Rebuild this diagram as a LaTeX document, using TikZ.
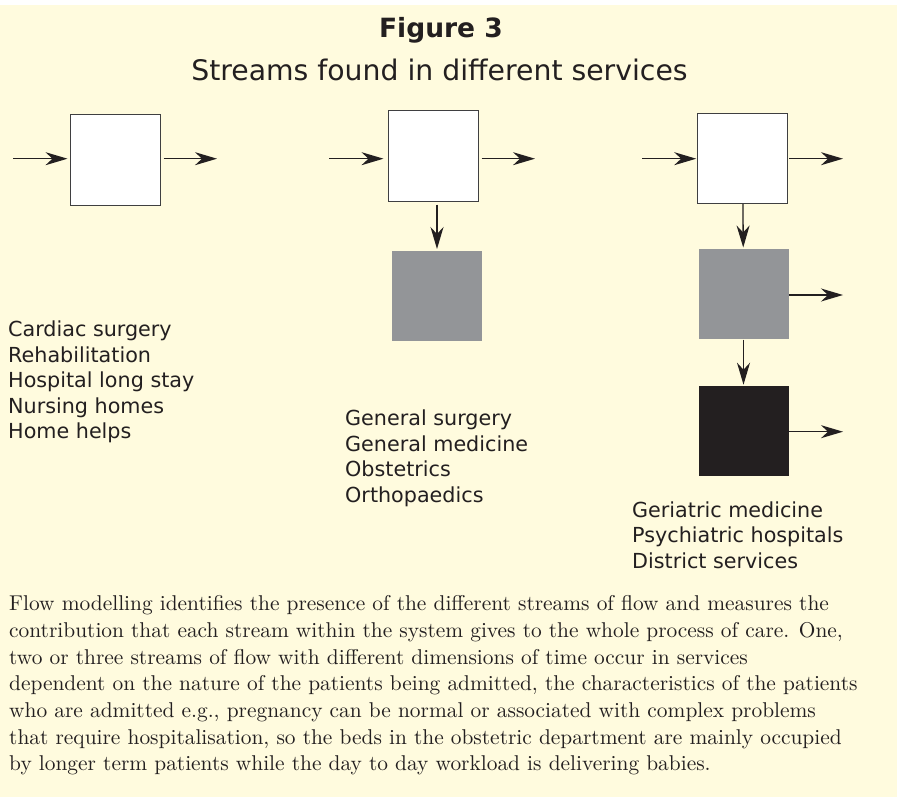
\documentclass[tikz,border=0pt]{standalone}
\usepackage{fontspec}
\usepackage{tikz}
\usetikzlibrary{arrows.meta,calc}
\newfontfamily\headfont{DejaVu Sans}
\newfontfamily\bodyfont{lmroman10-regular.otf}
\definecolor{paper}{HTML}{FFFBDE}
\definecolor{ink}{HTML}{231F20}
\definecolor{edge}{HTML}{3F3F41}
\definecolor{midgrey}{HTML}{939598}
\newcommand{\titlesize}{\fontsize{26.5}{30}\selectfont}
\newcommand{\subsize}{\fontsize{28.3}{32}\selectfont}
\newcommand{\listsize}{\fontsize{20.7}{25.5}\selectfont}
\newcommand{\bodysize}{\fontsize{21.4}{26.7}\selectfont}

\begin{document}
\begin{tikzpicture}[x=1pt,y=-1pt,
  stock/.style={draw=edge,line width=1pt,minimum width=90,minimum height=90,inner sep=0},
  flow/.style={ink,line width=1.3pt,-{Stealth[length=22pt,width=13pt,inset=7pt]}},
  lst/.style={anchor=base west,inner sep=0,align=left,font=\headfont\listsize,text=ink}]
\useasboundingbox (0,0) rectangle (897,797);
\fill[white] (0,0) rectangle (897,797);
\fill[paper] (0,5) rectangle (897,797);
% heading
\node[anchor=base,inner sep=0,font=\headfont\bfseries\titlesize,text=ink] (title) at (441,38) {Figure 3};
\node[anchor=base,inner sep=0,font=\headfont\subsize,text=ink] (subtitle) at (439.5,80.5) {Streams found in different services};
% one stream
\node[stock,fill=white] (a1) at (115,160) {};
\coordinate (ain) at (13,158.7);
\coordinate (aout) at (217,158.7);
\draw[flow,shorten >=2pt] (ain) -- (ain -| a1.west);
\draw[flow,shorten <=3pt] (a1.east |- aout) -- (aout);
\node[lst] (alist) at (8,438.7) {Cardiac surgery\\Rehabilitation\\Hospital long stay\\Nursing homes\\Home helps};
% two streams
\node[stock,fill=white] (b1) at (433,156) {};
\node[stock,draw=none,fill=midgrey] (b2) at (437,295.5) {};
\coordinate (bin) at (329,158.7);
\coordinate (bout) at (535,158.7);
\draw[flow,shorten >=4pt] (bin) -- (bin -| b1.west);
\draw[flow,shorten <=3pt] (b1.east |- bout) -- (bout);
\draw[flow,shorten <=3pt,shorten >=1pt] (b2.north |- b1.south) -- (b2.north);
\node[lst] (blist) at (345,502) {General surgery\\General medicine\\Obstetrics\\Orthopaedics};
% three streams
\node[stock,fill=white] (c1) at (742.7,158.4) {};
\node[stock,draw=none,fill=midgrey] (c2) at (743.5,294) {};
\node[stock,draw=none,fill=ink] (c3) at (743.5,431.2) {};
\coordinate (cin) at (642,158.7);
\coordinate (cout) at (843,158.7);
\coordinate (cout2) at (843,295);
\coordinate (cout3) at (843,431.7);
\draw[flow,shorten >=1pt] (cin) -- (cin -| c1.west);
\draw[flow,shorten <=1pt] (c1.east |- cout) -- (cout);
\draw[flow] (c2.east |- cout2) -- (cout2);
\draw[flow] (c3.east |- cout3) -- (cout3);
\draw[flow,shorten >=1pt] (c1) -- (c2);
\draw[flow,shorten >=1pt] (c2) -- (c3);
\node[lst] (clist) at (632,568) {Geriatric medicine\\Psychiatric hospitals\\District services};
% caption text
\node[anchor=base west,inner sep=0,align=left,font=\bodyfont\bodysize,text=ink] (body) at (9,770.9)
  {Flow modelling identifies the presence of the different streams of flow and measures the\\
   contribution that each stream within the system gives to the whole process of care. One,\\
   two or three streams of flow with different dimensions of time occur in services\\
   dependent on the nature of the patients being admitted, the characteristics of the patients\\
   who are admitted e.g., pregnancy can be normal or associated with complex problems\\
   that require hospitalisation, so the beds in the obstetric department are mainly occupied\\
   by longer term patients while the day to day workload is delivering babies.};
\end{tikzpicture}
\end{document}
